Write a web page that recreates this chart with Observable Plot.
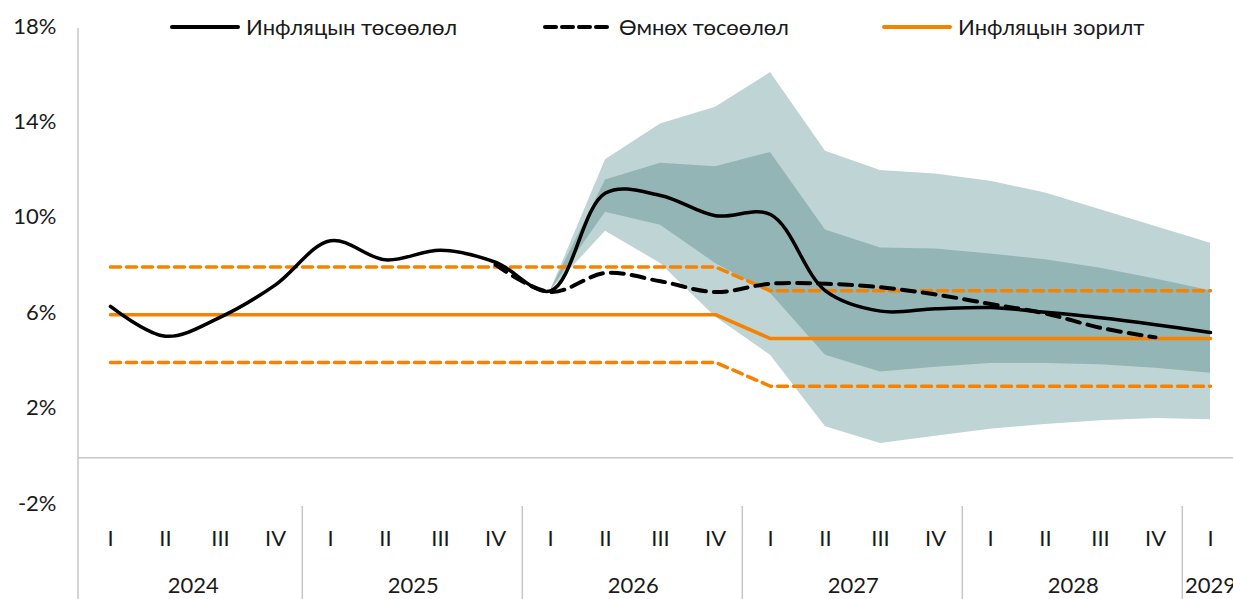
<!DOCTYPE html>
<html>
<head>
<meta charset="utf-8">
<script src="https://cdn.jsdelivr.net/npm/d3@7"></script>
<script src="https://cdn.jsdelivr.net/npm/@observablehq/plot@0.6"></script>
<style>
  html, body { margin: 0; padding: 0; background: #fff; overflow: hidden; }
  #wrap { position: relative; width: 1233px; height: 599px; overflow: hidden;
          font-family: Lato, "Open Sans", "DejaVu Sans", sans-serif; color: #1a1a1a; }
  #chart svg { display: block; max-width: none !important; }
  .item { position: absolute; top: 13px; display: flex; align-items: center; font-size: 22px; white-space: nowrap; }
  .item svg { display: block; margin-right: 6px; }
</style>
</head>
<body>
<div id="wrap">
  <div id="chart"></div>
  <div id="legend"></div>
</div>
<script>
// ---- data ----
const quarters = [
  "2024-I","2024-II","2024-III","2024-IV",
  "2025-I","2025-II","2025-III","2025-IV",
  "2026-I","2026-II","2026-III","2026-IV",
  "2027-I","2027-II","2027-III","2027-IV",
  "2028-I","2028-II","2028-III","2028-IV",
  "2029-I"
];
const fullYears = ["2024","2025","2026","2027","2028"];
const partialYears = ["2029"];
const yTicks = [-2, 2, 6, 10, 14, 18];

// Инфляцын төсөөлөл
const forecast = [6.35, 5.1, 5.9, 7.25, 9.1, 8.3, 8.7, 8.2, 7.0, 11.1, 11.0, 10.15, 10.2, 7.0, 6.15, 6.25, 6.3, 6.1, 5.87, 5.58, 5.25];
// Өмнөх төсөөлөл
const previous = [null, null, null, null, null, null, null, 8.1, 6.95, 7.75, 7.4, 6.95, 7.3, 7.3, 7.15, 6.85, 6.45, 6.05, 5.45, 5.05, null];
// Инфляцын зорилт and its band
const target = [6, 6, 6, 6, 6, 6, 6, 6, 6, 6, 6, 6, 5, 5, 5, 5, 5, 5, 5, 5, 5];
const targetHigh = [8, 8, 8, 8, 8, 8, 8, 8, 8, 8, 8, 8, 7, 7, 7, 7, 7, 7, 7, 7, 7];
const targetLow = [4, 4, 4, 4, 4, 4, 4, 4, 4, 4, 4, 4, 3, 3, 3, 3, 3, 3, 3, 3, 3];
// fan chart bands
const outerHigh = [null, null, null, null, null, null, null, null, 7.0, 12.5, 14.0, 14.7, 16.15, 12.85, 12.05, 11.9, 11.6, 11.1, 10.4, 9.7, 9.0];
const outerLow  = [null, null, null, null, null, null, null, null, 7.0, 9.5, 8.15, 5.9, 4.3, 1.3, 0.6, 0.9, 1.2, 1.4, 1.55, 1.65, 1.6];
const innerHigh = [null, null, null, null, null, null, null, null, 7.0, 11.65, 12.35, 12.2, 12.8, 9.55, 8.8, 8.75, 8.55, 8.3, 7.95, 7.5, 7.0];
const innerLow  = [null, null, null, null, null, null, null, null, 7.0, 10.3, 9.75, 8.15, 6.9, 4.3, 3.6, 3.8, 3.95, 3.95, 3.9, 3.75, 3.55];

const roman = q => q.split("-")[1];
const yearOf = q => q.split("-")[0];

const table = quarters.map((q, i) => ({
  q, forecast: forecast[i], previous: previous[i], target: target[i],
  targetHigh: targetHigh[i], targetLow: targetLow[i],
  outerHigh: outerHigh[i], outerLow: outerLow[i], innerHigh: innerHigh[i], innerLow: innerLow[i]
}));

// ---- layout ----
const W = 1241, H = 599, ML = 78, MT = 28, MB = 94;
const step = (W - ML) / quarters.length;
const orange = "#f58200";
const axisGray = "#c6c6c6";
const FONT = 'Lato, "Open Sans", "DejaVu Sans", sans-serif';

const plot = Plot.plot({
  width: W, height: H,
  marginLeft: ML, marginRight: 0, marginTop: MT, marginBottom: MB,
  style: {fontFamily: FONT, fontSize: "22px", color: "#1a1a1a", background: "transparent", overflow: "visible", maxWidth: "none"},
  x: {type: "point", domain: quarters, padding: 0.5, axis: null},
  y: {domain: [-2, 18], axis: null},
  marks: [
    Plot.areaY(table, {x: "q", y1: "outerLow", y2: "outerHigh", fill: "#bfd4d4"}),
    Plot.areaY(table, {x: "q", y1: "innerLow", y2: "innerHigh", fill: "#93b5b6"}),
    Plot.ruleY([0], {stroke: axisGray, strokeWidth: 1.5}),
    Plot.line(table, {x: "q", y: "targetHigh", stroke: orange, strokeWidth: 3.5, strokeDasharray: "10,6"}),
    Plot.line(table, {x: "q", y: "targetLow", stroke: orange, strokeWidth: 3.5, strokeDasharray: "10,6"}),
    Plot.line(table, {x: "q", y: "target", stroke: orange, strokeWidth: 3.5}),
    Plot.line(table, {x: "q", y: "previous", stroke: "#000", strokeWidth: 4, strokeDasharray: "13,8", curve: "catmull-rom"}),
    Plot.line(table, {x: "q", y: "forecast", stroke: "#000", strokeWidth: 3.5, curve: "catmull-rom"}),
    Plot.axisY(yTicks, {tickSize: 0, tickPadding: 22, tickFormat: d => d + "%", label: null, dy: -2}),
    Plot.axisX({tickSize: 0, tickPadding: 25, tickFormat: roman, label: null}),
    Plot.axisX(fullYears.map(y => y + "-II"), {tickSize: 0, tickPadding: 72, tickFormat: yearOf, dx: step / 2, label: null}),
    Plot.axisX(partialYears.map(y => y + "-I"), {tickSize: 0, tickPadding: 72, tickFormat: yearOf, label: null})
  ]
});

// axis lines: left vertical and year separators
const xs = plot.scale("x");
const g = d3.select(plot).append("g").attr("stroke", axisGray).attr("stroke-width", 1.5);
g.append("line").attr("x1", ML).attr("x2", ML).attr("y1", MT).attr("y2", H);
fullYears.slice(1).concat(partialYears).forEach(y => {
  const x = xs.apply(y + "-I") - step / 2;
  g.append("line").attr("x1", x).attr("x2", x).attr("y1", H - MB + 1).attr("y2", H);
});

document.getElementById("chart").appendChild(plot);

// ---- legend ----
const legendItems = [
  {label: "Инфляцын төсөөлөл", color: "#000", dash: null, left: 170},
  {label: "Өмнөх төсөөлөл", color: "#000", dash: "11,6", left: 543},
  {label: "Инфляцын зорилт", color: orange, dash: null, left: 882}
];
const legend = d3.select("#legend");
legendItems.forEach(it => {
  const div = legend.append("div").attr("class", "item").style("left", it.left + "px");
  const s = div.append("svg").attr("width", 70).attr("height", 10);
  s.append("line").attr("x1", 2).attr("x2", 68).attr("y1", 5).attr("y2", 5)
    .attr("stroke", it.color).attr("stroke-width", 4).attr("stroke-linecap", "round")
    .attr("stroke-dasharray", it.dash);
  div.append("span").text(it.label);
});
</script>
</body>
</html>
